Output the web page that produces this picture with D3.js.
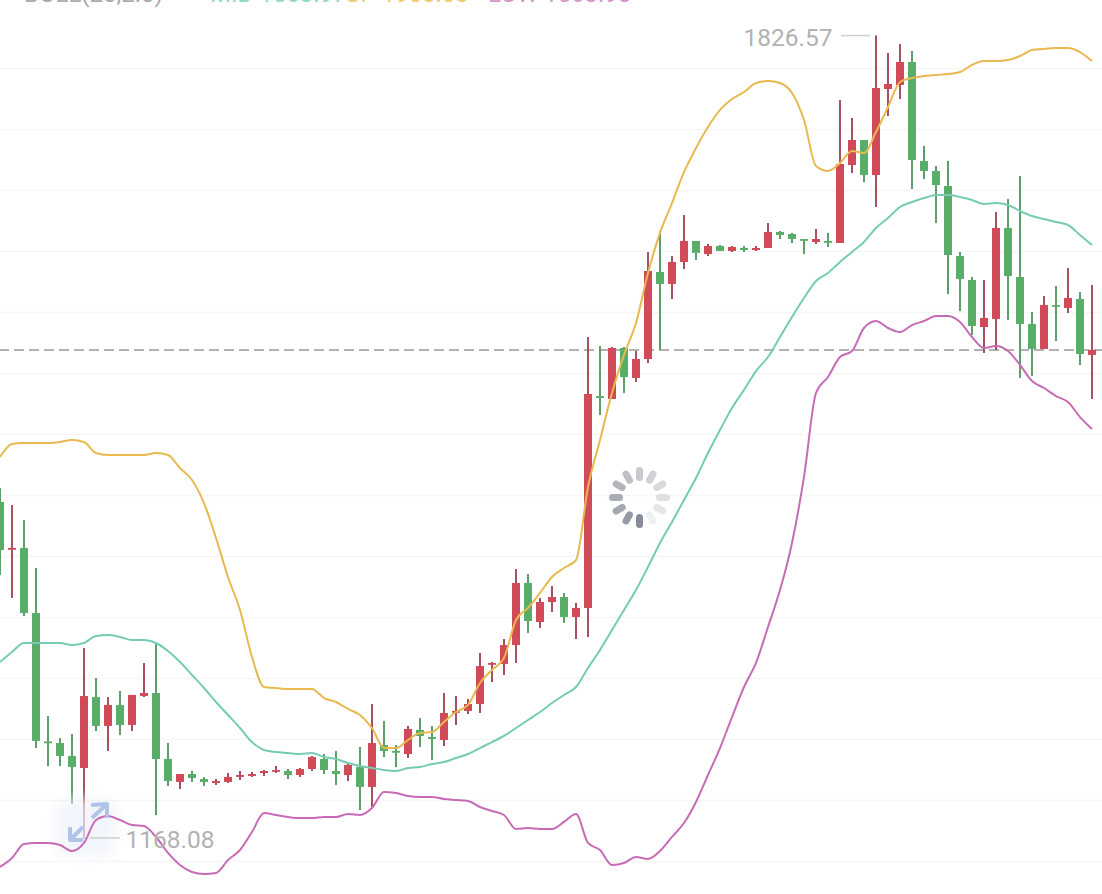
<!DOCTYPE html>
<html>
<head>
<meta charset="utf-8">
<script src="https://cdn.jsdelivr.net/npm/d3@7/dist/d3.min.js"></script>
<style>
html,body{margin:0;padding:0;background:#fff;overflow:hidden}
svg{display:block}
text{font-family:Roboto,"Noto Sans",sans-serif}
</style>
</head>
<body>
<svg id="c" width="1102" height="894"></svg>
<script>
const openP=[1444.3,1405.8,1406.6,1353.3,1248,1246.7,1236.1,1226.2,1284.4,1260.7,1277.9,1261.5,1285.2,1287.7,1233.6,1214.8,1221.3,1217.2,1213.9,1214.8,1218.9,1219.7,1222.1,1223.8,1223.8,1220.5,1225.4,1233.6,1223.8,1220.5,1227,1210.7,1245.1,1240.2,1237.7,1257.4,1251.6,1249.2,1272.1,1273,1278.7,1311.5,1311.5,1327,1377.9,1345.9,1362.3,1366.4,1350,1357.4,1531.1,1528.7,1570.5,1545.9,1561.5,1632.8,1623,1641,1658.2,1647.5,1654.1,1650,1652.5,1650.8,1652.5,1665.6,1663.9,1659.8,1657.4,1658.2,1656.6,1720.5,1741,1712.3,1782.8,1786.1,1804.9,1723.8,1715.6,1703.3,1645.9,1626.2,1587.7,1594.3,1668.9,1628.7,1590.2,1569.7,1605.7,1603.3,1610.7,1564.8];
const highP=[1455.7,1441.8,1429.5,1390.2,1268.9,1250.8,1254.1,1324.6,1300,1284.4,1289.3,1286.1,1312.3,1328.7,1246.7,1221.3,1223.8,1218.9,1217.2,1222.1,1223.8,1223,1224.6,1227.9,1225.4,1226.2,1236.1,1237.7,1240.2,1230.3,1243.4,1278.7,1264.8,1245.1,1260.7,1267.2,1260.7,1287.7,1285.2,1282.8,1320.5,1313.1,1332,1389.3,1385.2,1365.6,1375.4,1369.7,1361.5,1579.5,1572.1,1571.3,1571.3,1568,1649.2,1666.4,1645.9,1679.5,1658.2,1655.7,1654.9,1654.1,1654.1,1654.1,1672.9,1666.4,1664.8,1659.8,1668,1664.8,1773.8,1759,1741,1826.57,1812.3,1819.7,1813.9,1736.1,1719.7,1723.8,1649.2,1628.7,1626.2,1682,1692.6,1711.5,1600,1613.1,1621.3,1636.1,1616.4,1622.1];
const lowP=[1384.4,1365.6,1350.8,1242.6,1227.9,1227.9,1196.7,1168.08,1256.6,1240.2,1253.3,1256.6,1284.4,1187.7,1211.5,1209,1214.8,1211.5,1212.3,1213.9,1216.4,1218.9,1219.7,1222.1,1217.2,1218.9,1223.8,1221.3,1212.3,1215.6,1191.8,1194.3,1235.2,1227,1234.4,1243.4,1232.8,1244.3,1261.5,1270.5,1271.3,1296.7,1302.5,1312.3,1336.9,1341,1354.1,1345.1,1332,1333.6,1515.6,1528.7,1533.6,1542.6,1558.2,1568.9,1610.7,1635.2,1642.6,1645.9,1650,1649.2,1649.2,1650,1652.5,1659.8,1656.6,1647.5,1655.7,1653.3,1656.6,1713.9,1706.6,1686.1,1760.7,1774.6,1700.8,1709,1672.9,1614.8,1600.8,1581.1,1566.4,1568.9,1593.4,1545.9,1547.5,1569.7,1576.2,1599.2,1556.6,1528.7];
const closeP=[1404.9,1406.6,1353.3,1248.4,1247.5,1236.1,1227,1285.2,1260.7,1277.9,1261.5,1286.1,1287.7,1233.6,1215.6,1221.3,1218,1214.8,1215.6,1218.9,1220.5,1221.3,1223.8,1224.6,1220.5,1225.4,1235.2,1224.6,1221.3,1228.7,1210.7,1246.7,1240.2,1239.3,1258.2,1252.5,1250,1271.3,1273,1278.7,1309.8,1312.3,1327,1377.9,1346.7,1362.3,1366.4,1350,1357.4,1532.8,1529.5,1570.5,1546.7,1561.5,1633.6,1623,1641,1658.2,1648.4,1654.1,1650,1653.3,1650.8,1652.5,1665.6,1663.1,1659.8,1659,1659.8,1657.4,1721.3,1741,1712.3,1783.6,1786.9,1804.9,1724.6,1715.6,1704.1,1646.7,1627,1588.5,1595.1,1668.9,1629.5,1590.2,1569.7,1605.7,1604.9,1611.5,1565.6,1568.9];
const upperBand=[1481.1,1491.8,1492.6,1492.6,1492.6,1493.4,1495.1,1493.4,1484.4,1482.8,1482.8,1482.8,1482.8,1484.4,1482.8,1472.1,1462.3,1443.4,1414.8,1382.8,1355.7,1317.2,1292.6,1291.8,1291,1291,1291,1283.6,1280.3,1274.6,1269.7,1259,1242.6,1242.6,1249.2,1254.9,1255.7,1263.9,1272.1,1277.9,1295.9,1306.6,1316.4,1347.5,1357.4,1369.7,1382.8,1390.2,1396.7,1456.6,1495.1,1533.6,1564.8,1591,1632,1664.8,1689.3,1714.7,1734.4,1751.6,1765.6,1774.6,1780.3,1787.7,1789.3,1787.7,1779.5,1757.4,1719.7,1715.6,1722.1,1732,1730.3,1747.5,1768,1788.5,1791.8,1793.4,1794.3,1795.1,1796.7,1802.5,1805.7,1805.7,1806.6,1809.8,1814.8,1815.6,1816.4,1816.4,1813.1,1805.7];
const middleBand=[1313.1,1321.3,1328.7,1328.7,1328.7,1328.7,1327,1328.7,1334.4,1335.2,1333.6,1331.1,1331.1,1328.7,1322.1,1313.1,1302.5,1291.8,1280.3,1269.7,1259,1247.5,1241,1239.3,1238.5,1237.7,1238.5,1235.2,1233.6,1230.3,1227.9,1226.2,1224.6,1223.8,1226.2,1227,1229.5,1231.1,1234.4,1237.7,1242.6,1247.5,1252.5,1259,1265.6,1272.1,1279.5,1286.1,1292.6,1308.2,1323,1339.3,1355.7,1372.1,1391,1410.7,1427.9,1445.9,1463.9,1484.4,1503.3,1521.3,1536.1,1551.6,1563.1,1579.5,1595.9,1611.5,1625.4,1632,1641,1649.2,1657.4,1668.9,1677,1686.1,1690.2,1693.4,1695.9,1695.9,1694.3,1691.8,1688.5,1689.3,1687.7,1682.8,1678.7,1676.2,1673.8,1671.3,1663.1,1654.9];
const lowerBand=[1145.1,1152.5,1163.9,1164.8,1164.8,1163.1,1158.2,1164.8,1183.6,1186.9,1183.6,1179.5,1178.7,1169.7,1156.6,1146.7,1141,1139.3,1140.2,1150.8,1159,1173.8,1189.3,1187.7,1186.1,1185.2,1185.2,1186.1,1186.1,1188.5,1187.7,1193.4,1206.6,1205.7,1203.3,1202.5,1202.5,1200.8,1200,1199.2,1194.3,1191,1187.7,1176.2,1177,1176.2,1176.2,1182,1188.5,1164.8,1159,1146.7,1148.4,1153.3,1151.6,1158.2,1169.7,1181.1,1198.4,1220.5,1242.6,1268,1292.6,1312.3,1341.8,1372.1,1410.7,1464.8,1533.6,1546.7,1563.1,1568,1586.9,1592.6,1586.9,1583.6,1589.3,1592.6,1596.7,1596.7,1591.8,1579.5,1570.5,1572.1,1568,1556.6,1543.4,1537.7,1531.1,1526.2,1513.9,1504.1];
const gridLevels=[1800,1750,1700,1650,1600,1550,1500,1450,1400,1350,1300,1250,1200,1150];
const lastPrice=1568.9;
const maxLabel="1826.57", minLabel="1168.08";
const headerLabels=["BOLL(20,2.0)","MID 1563.97","UP 1900.03","LOW 1563.98"];

const svg=d3.select("#c");
const defs=svg.append("defs");
defs.append("filter").attr("id","halo").attr("x","-30%").attr("y","-30%").attr("width","160%").attr("height","160%")
  .append("feGaussianBlur").attr("stdDeviation",6);
defs.append("filter").attr("id","soft").attr("x","-10%").attr("y","-10%").attr("width","120%").attr("height","120%")
  .append("feGaussianBlur").attr("stdDeviation",0.7);

const x=d3.scaleLinear().domain([0,91]).range([0,1092]);
const y=d3.scaleLinear().domain([1800,1200]).range([68,800]);
const UP="#d04a58",DOWN="#59ad68",UPW="#a8505f",DOWNW="#5c9f6a";

// header, cropped by the top edge exactly as in the reference
svg.selectAll("text.hd").data(headerLabels).join("text").attr("class","hd")
  .attr("x",(d,i)=>[24,210,345,488][i]).attr("y",2).attr("font-size",24)
  .attr("fill",(d,i)=>["#aaa","#8fd8c0","#eecb70","#d695c8"][i]).text(d=>d);

// horizontal grid through an axis
svg.append("g").attr("class","grid")
  .call(d3.axisRight(y).tickValues(gridLevels).tickSize(1102).tickFormat(""))
  .call(g=>g.select(".domain").remove())
  .call(g=>g.selectAll("line").attr("stroke","#f5f5f6").attr("stroke-width",1.5));

// last price
svg.append("line").attr("x1",0).attr("x2",1102).attr("y1",y(lastPrice)).attr("y2",y(lastPrice))
  .attr("stroke","#b2b2b2").attr("stroke-width",2).attr("stroke-dasharray","10 5").attr("stroke-dashoffset",1);

// candles
const idx=d3.range(openP.length);
const g=svg.append("g");
g.selectAll("line.w").data(idx).join("line").attr("class","w")
  .attr("x1",i=>x(i)).attr("x2",i=>x(i)).attr("y1",i=>y(highP[i])).attr("y2",i=>y(lowP[i]))
  .attr("stroke",i=>closeP[i]>=openP[i]?UPW:DOWNW).attr("stroke-width",2);
g.selectAll("rect.b").data(idx).join("rect").attr("class","b")
  .attr("x",i=>x(i)-4).attr("width",8)
  .attr("y",i=>y(Math.max(openP[i],closeP[i])))
  .attr("height",i=>Math.max(1.8,Math.abs(y(openP[i])-y(closeP[i]))))
  .attr("fill",i=>closeP[i]>=openP[i]?UP:DOWN);

// floating icon halo sits under the lines
svg.append("rect").attr("x",56).attr("y",798).attr("width",60).attr("height",58).attr("rx",14)
  .attr("fill","#eef2fb").attr("opacity",.7).attr("filter","url(#halo)");

// Bollinger lines
const ln=d3.line().x((d,i)=>x(i)).y(d=>y(d)).curve(d3.curveMonotoneX);
[[upperBand,"#e8b94e"],[middleBand,"#74cdb2"],[lowerBand,"#c86bb6"]].forEach(([s,c])=>{
  svg.append("path").attr("d",ln(s)).attr("fill","none").attr("stroke",c).attr("stroke-width",2).attr("stroke-linejoin","round");
});

// floating icon arrows
svg.append("path").attr("d","M92 818 L107 804 M91 805 L107 804 L107 818 M83 827 L70 840 M70 827 L70 840 L83 840")
  .attr("fill","none").attr("stroke","#b0c3e8").attr("stroke-width",4).attr("stroke-linejoin","round").attr("filter","url(#soft)");

// max / min labels
const lbl="#b2b2b2";
svg.append("line").attr("x1",841).attr("x2",870).attr("y1",y(1826.57)).attr("y2",y(1826.57)).attr("stroke","#cfcfcf").attr("stroke-width",1.5);
svg.append("text").attr("x",832.5).attr("y",y(1826.57)+10.5).attr("text-anchor","end").attr("font-size",24.5).attr("fill",lbl).text(maxLabel);
svg.append("line").attr("x1",90).attr("x2",120).attr("y1",y(1168.08)-1).attr("y2",y(1168.08)-1).attr("stroke","#cfcfcf").attr("stroke-width",1.5);
svg.append("text").attr("x",125.5).attr("y",y(1168.08)+9).attr("font-size",24.5).attr("fill",lbl).text(minLabel);

// loading spinner
const sp=svg.append("g").attr("transform","translate(639.5,497.5)").attr("filter","url(#soft)");
const spokeShades=["#868c9c","#969aa6","#a4a7b0","#aaadb5","#b4b6bd","#bdbfc5","#c8c9ce","#d0d1d5","#d8d9dc","#dfe0e2","#e6e6e8","#eff0f1"];
sp.selectAll("line").data(spokeShades).join("line")
  .attr("y1",20).attr("y2",27).attr("stroke",d=>d).attr("stroke-width",7).attr("stroke-linecap","round")
  .attr("transform",(d,i)=>`rotate(${i*30})`);
</script>
</body>
</html>
